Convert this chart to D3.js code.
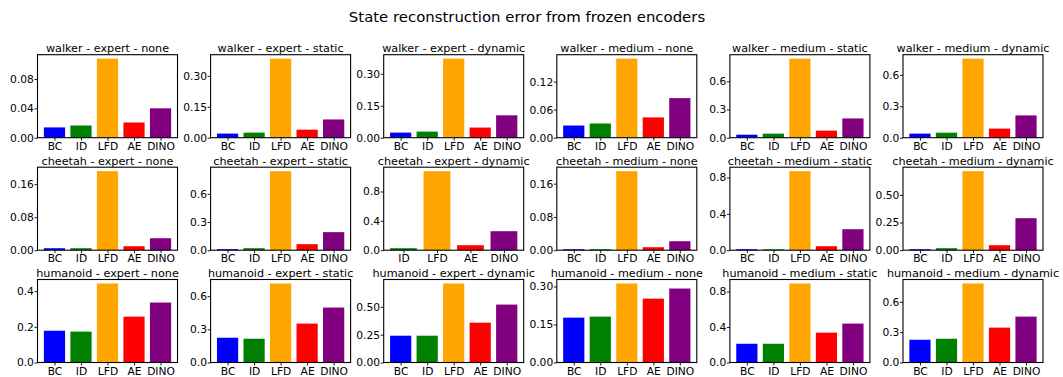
<!DOCTYPE html>
<html>
<head>
<meta charset="utf-8">
<script src="https://cdn.jsdelivr.net/npm/d3@7"></script>
<style>
    body { margin: 0; background: #fff; }
    svg { display: block; font-family: "DejaVu Sans", sans-serif; }
</style>
</head>
<body>
<div id="chart"></div>
<script>
(function() {
    'use strict';

    // Data
    var methods = ["BC", "ID", "LFD", "AE", "DINO"];
    var envs = ["walker", "cheetah", "humanoid"];
    var settings = ["expert - none", "expert - static", "expert - dynamic",
                    "medium - none", "medium - static", "medium - dynamic"];

    // one row per setting, values in methods order (null = not reported)
    var walkerErrors = [
        [0.014, 0.0166, 0.1076, 0.0207, 0.040],
        [0.020, 0.0246, 0.3836, 0.039, 0.0885],
        [0.024, 0.0286, 0.371, 0.0476, 0.105],
        [0.026, 0.0304, 0.169, 0.0434, 0.0846],
        [0.032, 0.043, 0.841, 0.075, 0.205],
        [0.039, 0.048, 0.755, 0.087, 0.213]
    ];
    var cheetahErrors = [
        [0.0048, 0.0048, 0.1915, 0.0097, 0.029],
        [0.011, 0.021, 0.841, 0.064, 0.192],
        [null, 0.027, 1.077, 0.068, 0.259],
        [0.0024, 0.0024, 0.190, 0.0072, 0.0216],
        [0.011, 0.010, 0.870, 0.044, 0.231],
        [0.009, 0.018, 0.714, 0.045, 0.289]
    ];
    var humanoidErrors = [
        [0.178, 0.173, 0.443, 0.257, 0.336],
        [0.224, 0.215, 0.715, 0.352, 0.497],
        [0.241, 0.241, 0.711, 0.358, 0.521],
        [0.177, 0.181, 0.312, 0.252, 0.292],
        [0.211, 0.211, 0.890, 0.336, 0.438],
        [0.225, 0.235, 0.782, 0.345, 0.454]
    ];

    // y tick labels per panel
    var walkerTicks = [
        ["0.00", "0.04", "0.08"], ["0.00", "0.15", "0.30"], ["0.00", "0.15", "0.30"],
        ["0.00", "0.06", "0.12"], ["0.0", "0.3", "0.6"], ["0.0", "0.3", "0.6"]
    ];
    var cheetahTicks = [
        ["0.00", "0.08", "0.16"], ["0.0", "0.3", "0.6"], ["0.0", "0.4", "0.8"],
        ["0.00", "0.08", "0.16"], ["0.0", "0.4", "0.8"], ["0.00", "0.25", "0.50"]
    ];
    var humanoidTicks = [
        ["0.0", "0.2", "0.4"], ["0.0", "0.3", "0.6"], ["0.00", "0.25", "0.50"],
        ["0.00", "0.15", "0.30"], ["0.0", "0.4", "0.8"], ["0.0", "0.3", "0.6"]
    ];

    var errorsByEnv = [walkerErrors, cheetahErrors, humanoidErrors];
    var ticksByEnv = [walkerTicks, cheetahTicks, humanoidTicks];

    // Style
    var colors = { BC: "blue", ID: "green", LFD: "orange", AE: "red", DINO: "purple" };

    // Layout
    var width = 1063, height = 377;
    var layout = {
        colLeft: 37.5,
        colStep: 173.1,
        axWidth: 140,
        rowTop: [54.7, 167.2, 279.5],
        axHeight: 83
    };

    var svg = d3.select("#chart").append("svg")
        .attr("width", width)
        .attr("height", height);

    svg.append("text")
        .attr("x", 527)
        .attr("y", 22)
        .attr("text-anchor", "middle")
        .style("font-size", "14.9px")
        .text("State reconstruction error from frozen encoders");

    var drawPanel = function(row, col) {
        var values = errorsByEnv[row][col];
        var tickLabels = ticksByEnv[row][col];

        var bars = [];
        methods.forEach(function(m, i) {
            if (values[i] !== null) bars.push({ method: m, value: values[i] });
        });
        var n = bars.length;

        var g = svg.append("g")
            .attr("transform", "translate(" + (layout.colLeft + col * layout.colStep) + "," + layout.rowTop[row] + ")");

        // matplotlib style margins: bars of width 0.8, 5% padding
        var span = n - 0.2;
        var xScale = d3.scaleLinear()
            .domain([-0.4 - 0.05 * span, n - 0.6 + 0.05 * span])
            .range([0, layout.axWidth]);

        var yMax = d3.max(bars, function(d) { return d.value; }) * 1.05;
        var yScale = d3.scaleLinear()
            .domain([0, yMax])
            .range([layout.axHeight, 0]);

        g.selectAll(".bar")
            .data(bars)
            .enter().append("rect")
            .attr("class", "bar")
            .attr("x", function(d, i) { return xScale(i - 0.4); })
            .attr("width", function(d, i) { return xScale(i + 0.4) - xScale(i - 0.4); })
            .attr("y", function(d) { return yScale(d.value); })
            .attr("height", function(d) { return layout.axHeight - yScale(d.value); })
            .attr("fill", function(d) { return colors[d.method]; });

        var yAxis = d3.axisLeft(yScale)
            .tickValues(tickLabels.map(Number))
            .tickFormat(function(v, i) { return tickLabels[i]; })
            .tickSize(3)
            .tickPadding(0.6);
        var xAxis = d3.axisBottom(xScale)
            .tickValues(d3.range(n))
            .tickFormat(function(i) { return bars[i].method; })
            .tickSize(3)
            .tickPadding(1.5);

        var gy = g.append("g").call(yAxis);
        var gx = g.append("g")
            .attr("transform", "translate(0," + layout.axHeight + ")")
            .call(xAxis);

        [gx, gy].forEach(function(a) {
            a.select(".domain").remove();
            a.selectAll("text")
                .attr("fill", "#000")
                .style("font-family", "DejaVu Sans, sans-serif")
                .style("font-size", "10.7px");
            a.selectAll("line").attr("stroke", "#000").attr("stroke-width", 0.9);
        });

        // frame
        g.append("rect")
            .attr("x", 0)
            .attr("y", 0)
            .attr("width", layout.axWidth)
            .attr("height", layout.axHeight)
            .attr("fill", "none")
            .attr("stroke", "#000")
            .attr("stroke-width", 1.1);

        g.append("text")
            .attr("x", layout.axWidth / 2)
            .attr("y", -2.6)
            .attr("text-anchor", "middle")
            .style("font-size", "11.2px")
            .text(envs[row] + " - " + settings[col]);
    };

    for (var r = 0; r < envs.length; r++) {
        for (var c = 0; c < settings.length; c++) {
            drawPanel(r, c);
        }
    }
})();
</script>
</body>
</html>
